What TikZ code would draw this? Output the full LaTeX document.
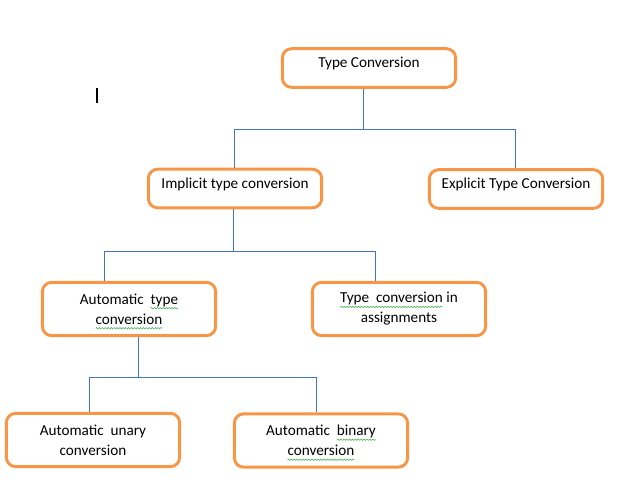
\documentclass[tikz,border=0pt]{standalone}
\usepackage{fontspec}
\setmainfont{Carlito}
\usetikzlibrary{decorations.pathmorphing}
\definecolor{boxorange}{HTML}{F79646}
\definecolor{linkblue}{HTML}{4472C4}
\definecolor{spellgreen}{HTML}{3CB043}
\newcommand\spellmark[1]{\tikz[baseline=(w.base)]{\node[draw=none, fill=none, inner sep=0pt, outer sep=0pt, minimum width=0pt, minimum height=0pt, text depth=, text height=] (w) {#1};
  \draw[overlay, spellgreen, line width=0.4pt, rounded corners=0pt, decorate, decoration={snake, amplitude=0.5pt, segment length=2.2pt}] ([yshift=-3pt]w.base west) -- ([yshift=-3pt]w.base east);}}
\begin{document}
\begin{tikzpicture}[x=0.75pt, y=-0.75pt,
  box/.style={draw=boxorange, line width=2.2pt, rounded corners=7pt, fill=white, minimum width=130pt, minimum height=29pt, align=center, font=\fontsize{11.4}{15}\selectfont},
  onebox/.style={box, text depth=8pt},
  twobox/.style={box, minimum height=40pt},
  link/.style={draw=linkblue, line width=0.75pt}]
\useasboundingbox (0,0) rectangle (637,494);
\node[onebox] (conv) at (369,68) {Type Conversion};
\node[onebox] (implicit) at (235,188.5) {Implicit type conversion};
\node[onebox] (explicit) at (516,189) {Explicit Type Conversion};
\node[twobox] (automatic) at (129,309) {Automatic\ \ \spellmark{type}\\\spellmark{conversion}};
\node[twobox] (assign) at (399,309) {\spellmark{Type\ \ conversion} in\\assignments};
\node[twobox] (unary) at (93,440) {Automatic\ \ unary\\conversion};
\node[twobox] (binary) at (321,440.5) {Automatic\ \ \spellmark{binary}\\\spellmark{conversion}};
\coordinate (fork1) at (363,129);
\coordinate (fork2) at (233,251);
\coordinate (fork3) at (138,377);
\draw[link] (conv.south -| fork1) -- (fork1);
\draw[link] (fork1) -| ([xshift=-0.75pt]implicit.north);
\draw[link] (fork1) -| ([xshift=-0.75pt]explicit.north);
\draw[link] (implicit.south -| fork2) -- (fork2);
\draw[link] (fork2) -| ([xshift=-18.75pt]automatic.north);
\draw[link] (fork2) -| ([xshift=-18pt]assign.north);
\draw[link] (automatic.south -| fork3) -- (fork3);
\draw[link] (fork3) -| ([xshift=-3pt]unary.north);
\draw[link] (fork3) -| ([xshift=-3.75pt]binary.north);
\draw[line width=1.5pt] (97,88) -- (97,103);
\end{tikzpicture}
\end{document}
